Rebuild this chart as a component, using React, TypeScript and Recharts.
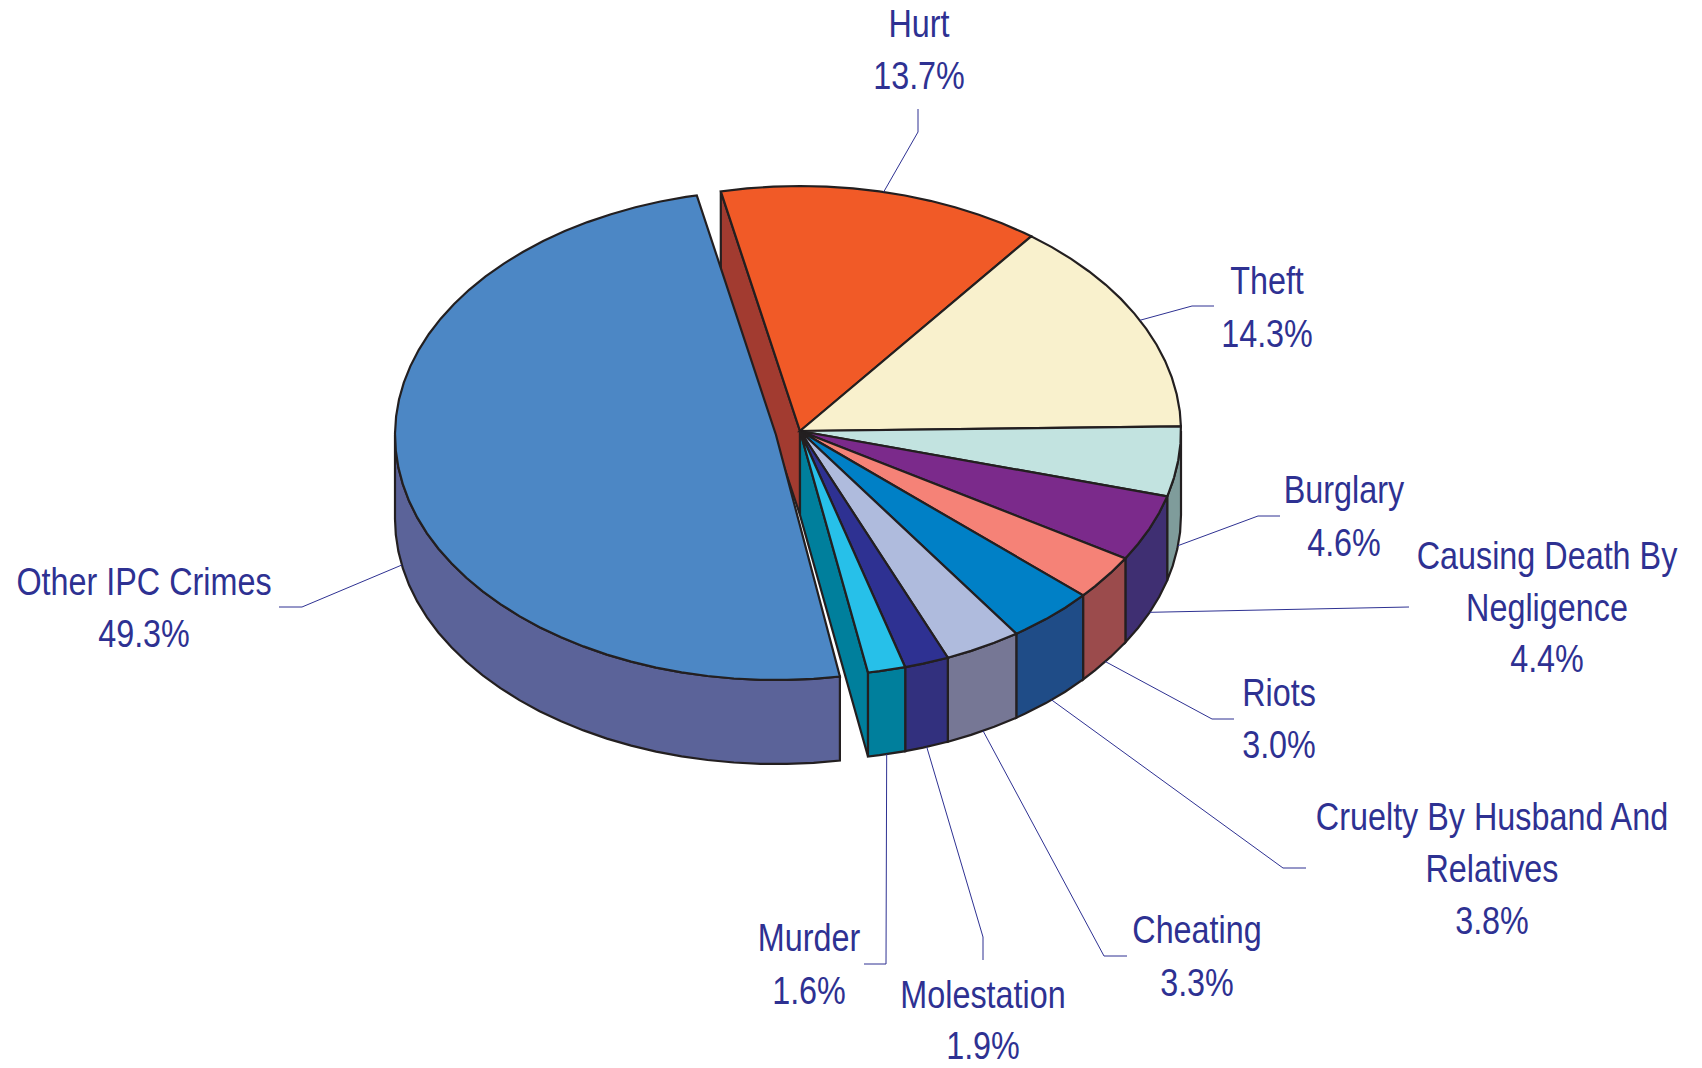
import { PieChart, Pie } from "recharts";

const names = [
  "Hurt", "Theft", "Burglary", "Causing Death By Negligence", "Riots",
  "Cruelty By Husband And Relatives", "Cheating", "Molestation", "Murder", "Other IPC Crimes",
];
const shares = [13.7, 14.3, 4.6, 4.4, 3.0, 3.8, 3.3, 1.9, 1.6, 49.3];
const topColors = [
  "#F15A27", "#F9F1CD", "#C2E3E0", "#7B2A8B", "#F58277",
  "#0080C6", "#AFBBDD", "#2E3192", "#27C0E9", "#4C87C5",
];
const wallColors = [
  "#A23B30", "#7F9C9B", "#7F9C9B", "#3F2F72", "#9B4B4C",
  "#1F4C87", "#767795", "#32307E", "#007F9C", "#5B6399",
];

// label text lines, baselines and leader bends, in page pixels
const labelLayout: Record<string, { lines: string[]; x: number; ys: number[]; elbow: number[]; end: number[] }> = {
  "Hurt": { lines: ["Hurt"], x: 919, ys: [37, 89], elbow: [918, 132], end: [918, 109] },
  "Theft": { lines: ["Theft"], x: 1267, ys: [294, 347], elbow: [1192, 306], end: [1214, 306] },
  "Burglary": { lines: ["Burglary"], x: 1344, ys: [503, 556], elbow: [1258, 516], end: [1280, 516] },
  "Causing Death By Negligence": { lines: ["Causing Death By", "Negligence"], x: 1547, ys: [569, 621, 672], elbow: [1409, 607], end: [1409, 607] },
  "Riots": { lines: ["Riots"], x: 1279, ys: [706, 758], elbow: [1212, 719], end: [1234, 719] },
  "Cruelty By Husband And Relatives": { lines: ["Cruelty By Husband And", "Relatives"], x: 1492, ys: [830, 882, 934], elbow: [1283, 868], end: [1306, 868] },
  "Cheating": { lines: ["Cheating"], x: 1197, ys: [943, 996], elbow: [1104, 956], end: [1127, 956] },
  "Molestation": { lines: ["Molestation"], x: 983, ys: [1008, 1059], elbow: [983, 937], end: [983, 960] },
  "Murder": { lines: ["Murder"], x: 809, ys: [951, 1004], elbow: [886, 964], end: [864, 964] },
  "Other IPC Crimes": { lines: ["Other IPC Crimes"], x: 144, ys: [595, 647], elbow: [302, 607], end: [279, 607] },
};

const chartData = names.map((name, i) => ({ name, value: shares[i], fill: topColors[i] }));

const TILT = 245 / 381;
const DEPTH = 84;
const EXPLODED = "Other IPC Crimes";
const EXPLODE_DX = -24;
const EXPLODE_DY = 4;
const OUTLINE = "#231F20";
const INK = "#2E3192";
const RAD = Math.PI / 180;
const NARROW = 0.84;

// the source's perspective pushes the near rim of the closed slices a little to the right
function rimPoint(cx: number, cy: number, r: number, angle: number, bow: boolean): [number, number] {
  const dy = -r * TILT * Math.sin(angle * RAD);
  const push = bow ? 4 * Math.max(0, (dy - 150) / 90) : 0;
  return [cx + r * Math.cos(angle * RAD) + push, cy + dy];
}

// from startAngle down to endAngle, a chord every 4 degrees like the source's rough outline
function rimPoints(cx: number, cy: number, r: number, from: number, to: number, bow: boolean) {
  const pts: [number, number][] = [];
  for (let a = from; a > to; a -= 4) pts.push(rimPoint(cx, cy, r, a, bow));
  pts.push(rimPoint(cx, cy, r, to, bow));
  return pts;
}

const toPath = (pts: number[][]) =>
  "M" + pts.map((p) => p[0].toFixed(1) + "," + p[1].toFixed(1)).join("L") + "Z";

function Slice3D(props: any) {
  const { outerRadius: r, startAngle, endAngle, fill, name } = props;
  const exploded = name === EXPLODED;
  const cx = props.cx + (exploded ? EXPLODE_DX : 0);
  const cy = props.cy + (exploded ? EXPLODE_DY : 0);
  const wall = wallColors[names.indexOf(name)];
  const common = { stroke: OUTLINE, strokeWidth: 2.2, strokeLinejoin: "miter" as const };

  const hi = Math.min(startAngle, 0);
  const lo = Math.max(endAngle, -180);
  let wallPath = null;
  if (hi > lo) {
    const upper = rimPoints(cx, cy, r, hi, lo, !exploded);
    const lower = upper.map((p) => [p[0], p[1] + DEPTH]).reverse();
    wallPath = <path d={toPath([...upper, ...lower])} fill={wall} {...common} />;
  }

  // the faces laid open by pulling the big slice away
  const faceAt = (angle: number) => {
    const p = rimPoint(cx, cy, r, angle, !exploded);
    return (
      <path
        d={toPath([[cx, cy], p, [p[0], p[1] + DEPTH], [cx, cy + DEPTH]])}
        fill={wall}
        {...common}
      />
    );
  };

  return (
    <g>
      {name === names[0] && faceAt(startAngle)}
      {name === names[names.length - 2] && faceAt(endAngle)}
      {wallPath}
      <path d={toPath([[cx, cy], ...rimPoints(cx, cy, r, startAngle, endAngle, !exploded)])} fill={fill} {...common} />
    </g>
  );
}

function SliceLabel(props: any) {
  const { cx, cy, outerRadius: r, midAngle, name, value } = props;
  const exploded = name === EXPLODED;
  const layout = labelLayout[name];
  const rim = rimPoint(
    cx + (exploded ? EXPLODE_DX : 0),
    cy + (exploded ? EXPLODE_DY : 0),
    r,
    midAngle,
    !exploded,
  );
  const front = Math.sin(midAngle * RAD) < 0;
  const start = [rim[0], rim[1] + (front ? DEPTH : 0)];
  const rows = [...layout.lines, value.toFixed(1) + "%"];
  return (
    <g>
      <polyline
        points={[start, layout.elbow, layout.end].map((p) => p.join(",")).join(" ")}
        fill="none"
        stroke={INK}
        strokeWidth={1}
      />
      {rows.map((row, i) => (
        <text
          key={row}
          transform={`translate(${layout.x},${layout.ys[i]}) scale(${NARROW},1)`}
          textAnchor="middle"
          fill={INK}
          stroke="none"
          fontFamily="'Liberation Sans', Arial, sans-serif"
          fontSize={38.5}
        >
          {row}
        </text>
      ))}
    </g>
  );
}

export default function App() {
  return (
    <div style={{ position: "absolute", left: 0, top: 0, width: 1702, height: 1068, background: "#fff" }}>
      <PieChart width={1702} height={1068} margin={{ top: 0, right: 0, bottom: 0, left: 0 }}>
        <Pie
          data={chartData}
          dataKey="value"
          nameKey="name"
          cx={800}
          cy={431}
          innerRadius={0}
          outerRadius={381}
          startAngle={102}
          endAngle={-258}
          paddingAngle={0}
          shape={Slice3D}
          label={SliceLabel}
          labelLine={false}
          isAnimationActive={false}
        />
      </PieChart>
    </div>
  );
}
